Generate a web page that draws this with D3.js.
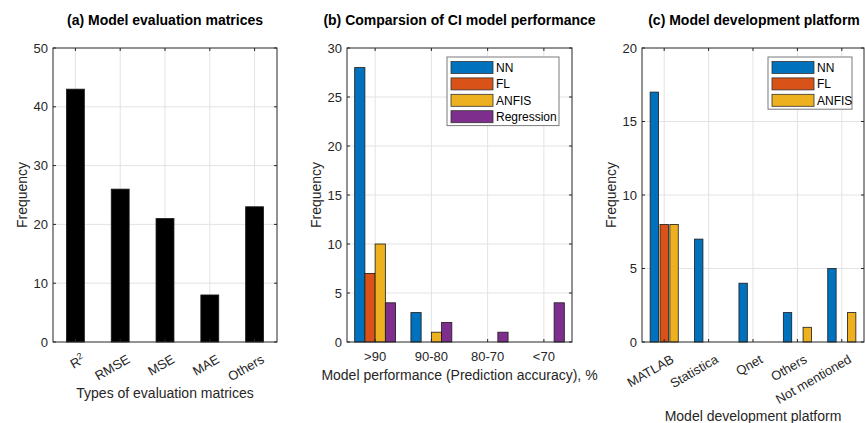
<!DOCTYPE html>
<html>
<head>
<meta charset="utf-8">
<script src="https://cdn.jsdelivr.net/npm/d3@7"></script>
<style>
  body { margin: 0; background: #fff; }
  svg { font-family: "Liberation Sans", Arial, Helvetica, sans-serif; }
</style>
</head>
<body>
<div id="chart"></div>
<script>
// (a) evaluation matrices
const metricCats = ['R2', 'RMSE', 'MSE', 'MAE', 'Others'];
const metricFreq = [43, 26, 21, 8, 23];
const metricTicks = [0, 10, 20, 30, 40, 50];

// (b) CI model performance
const perfCats = ['>90', '90-80', '80-70', '<70'];
const perfSeries = ['NN', 'FL', 'ANFIS', 'Regression'];
const perfNN = [28, 3, 0, 0];
const perfFL = [7, 0, 0, 0];
const perfANFIS = [10, 1, 0, 0];
const perfReg = [4, 2, 1, 4];
const perfTicks = [0, 5, 10, 15, 20, 25, 30];

// (c) development platform
const platCats = ['MATLAB', 'Statistica', 'Qnet', 'Others', 'Not mentioned'];
const platSeries = ['NN', 'FL', 'ANFIS'];
const platNN = [17, 7, 4, 2, 5];
const platFL = [8, 0, 0, 0, 0];
const platANFIS = [8, 0, 0, 1, 2];
const platTicks = [0, 5, 10, 15, 20];

const palette = ['#0072BD', '#D95319', '#EDB120', '#7E2F8E'];
const axisColor = '#262626';

const svg = d3.select('#chart').append('svg')
  .attr('width', 865)
  .attr('height', 423);

const plotTop = 48, plotBottom = 342;

function drawPanel(opt) {
  const x = d3.scaleLinear().domain([0.5, opt.cats.length + 0.5]).range([opt.left, opt.right]);
  const y = d3.scaleLinear().domain([0, d3.max(opt.ticks)]).range([plotBottom, plotTop]);
  const g = svg.append('g');

  // grid
  g.selectAll('.gx').data(opt.cats).enter().append('line')
    .attr('x1', (d, i) => x(i + 1)).attr('x2', (d, i) => x(i + 1))
    .attr('y1', plotTop).attr('y2', plotBottom)
    .attr('stroke', '#e3e3e3').attr('stroke-width', 1);
  g.selectAll('.gy').data(opt.ticks.slice(1, -1)).enter().append('line')
    .attr('x1', opt.left).attr('x2', opt.right)
    .attr('y1', d => y(d)).attr('y2', d => y(d))
    .attr('stroke', '#e3e3e3').attr('stroke-width', 1);

  // bars (grouped, matlab-ish widths)
  const n = opt.series.length;
  const groupW = n === 1 ? 0.4 : n / (n + 1.5);
  const slot = groupW / n;
  opt.series.forEach((s, k) => {
    s.values.forEach((v, i) => {
      if (v <= 0) return;
      const cx = i + 1 - groupW / 2 + slot * (k + 0.5);
      const w = slot * opt.barFrac;
      g.append('rect')
        .attr('x', x(cx - w / 2))
        .attr('y', y(v))
        .attr('width', x(cx + w / 2) - x(cx - w / 2))
        .attr('height', y(0) - y(v))
        .attr('fill', s.color)
        .attr('stroke', '#1a1a1a')
        .attr('stroke-width', 0.8);
    });
  });

  // box
  g.append('rect')
    .attr('x', opt.left).attr('y', plotTop)
    .attr('width', opt.right - opt.left).attr('height', plotBottom - plotTop)
    .attr('fill', 'none').attr('stroke', axisColor).attr('stroke-width', 1);

  // ticks inside
  const tl = 3;
  opt.ticks.forEach(t => {
    g.append('line').attr('x1', opt.left).attr('x2', opt.left + tl)
      .attr('y1', y(t)).attr('y2', y(t)).attr('stroke', axisColor);
    g.append('line').attr('x1', opt.right).attr('x2', opt.right - tl)
      .attr('y1', y(t)).attr('y2', y(t)).attr('stroke', axisColor);
  });
  opt.cats.forEach((c, i) => {
    g.append('line').attr('x1', x(i + 1)).attr('x2', x(i + 1))
      .attr('y1', plotBottom).attr('y2', plotBottom - tl).attr('stroke', axisColor);
    g.append('line').attr('x1', x(i + 1)).attr('x2', x(i + 1))
      .attr('y1', plotTop).attr('y2', plotTop + tl).attr('stroke', axisColor);
  });

  // y tick labels
  g.selectAll('.yl').data(opt.ticks).enter().append('text')
    .attr('x', opt.left - 5).attr('y', d => y(d))
    .attr('dy', '0.35em').attr('text-anchor', 'end')
    .attr('font-size', 13).attr('fill', axisColor)
    .text(d => d);

  // x tick labels
  opt.cats.forEach((c, i) => {
    const t = g.append('text').attr('font-size', 13).attr('fill', axisColor);
    if (opt.rotate) {
      t.attr('text-anchor', 'end')
        .attr('transform', `translate(${x(i + 1) + 6},${plotBottom + 12}) rotate(-30)`)
        .attr('dy', '0.7em');
    } else {
      t.attr('text-anchor', 'middle').attr('x', x(i + 1)).attr('y', plotBottom + 19);
    }
    if (c === 'R2') {
      t.append('tspan').text('R');
      t.append('tspan').attr('baseline-shift', 'super').attr('font-size', 9).text('2');
    } else {
      t.text(c);
    }
  });

  // titles and labels
  const cx = (opt.left + opt.right) / 2;
  svg.append('text').attr('x', opt.titleX || cx).attr('y', 25)
    .attr('text-anchor', 'middle').attr('font-size', 14).attr('font-weight', 'bold')
    .attr('fill', '#000').text(opt.title);
  svg.append('text').attr('x', opt.xlabelX || cx).attr('y', opt.xlabelY)
    .attr('text-anchor', 'middle').attr('font-size', 14).attr('fill', axisColor)
    .text(opt.xlabel);
  svg.append('text')
    .attr('transform', `translate(${opt.ylabelX},${(plotTop + plotBottom) / 2}) rotate(-90)`)
    .attr('text-anchor', 'middle').attr('font-size', 14).attr('fill', axisColor)
    .text('Frequency');

  // legend
  if (opt.legend) {
    const L = opt.legend;
    const rowH = 16.4;
    const lg = svg.append('g');
    lg.append('rect').attr('x', L.x).attr('y', L.y)
      .attr('width', L.w).attr('height', rowH * n + 3)
      .attr('fill', '#fff').attr('stroke', '#7a7a7a').attr('stroke-width', 1);
    opt.series.forEach((s, k) => {
      const cy = L.y + 10.5 + k * rowH;
      lg.append('rect').attr('x', L.x + 4).attr('y', cy - 6)
        .attr('width', 42).attr('height', 12)
        .attr('fill', s.color).attr('stroke', '#333').attr('stroke-width', 0.8);
      lg.append('text').attr('x', L.x + 49).attr('y', cy).attr('dy', '0.35em')
        .attr('font-size', 12).attr('fill', '#000').text(s.name);
    });
  }
}

drawPanel({
  left: 53, right: 277, cats: metricCats, ticks: metricTicks,
  series: [{ name: 'Freq', values: metricFreq, color: '#000' }],
  barFrac: 1, rotate: true,
  title: '(a) Model evaluation matrices', xlabel: 'Types of evaluation matrices',
  xlabelY: 398, ylabelX: 27
});

drawPanel({
  left: 347, right: 572, cats: perfCats, ticks: perfTicks,
  series: [
    { name: perfSeries[0], values: perfNN, color: palette[0] },
    { name: perfSeries[1], values: perfFL, color: palette[1] },
    { name: perfSeries[2], values: perfANFIS, color: palette[2] },
    { name: perfSeries[3], values: perfReg, color: palette[3] }
  ],
  barFrac: 1, rotate: false,
  title: '(b) Comparsion of CI model performance',
  xlabel: 'Model performance (Prediction accuracy), %',
  xlabelY: 380, ylabelX: 321,
  legend: { x: 447, y: 57, w: 112 }
});

drawPanel({
  left: 642, right: 864, cats: platCats, ticks: platTicks,
  series: [
    { name: platSeries[0], values: platNN, color: palette[0] },
    { name: platSeries[1], values: platFL, color: palette[1] },
    { name: platSeries[2], values: platANFIS, color: palette[2] }
  ],
  barFrac: 0.85, rotate: true,
  title: '(c) Model development platform', titleX: 754,
  xlabel: 'Model development platform', xlabelX: 753,
  xlabelY: 421, ylabelX: 616,
  legend: { x: 768, y: 57, w: 84 }
});
</script>
</body>
</html>
